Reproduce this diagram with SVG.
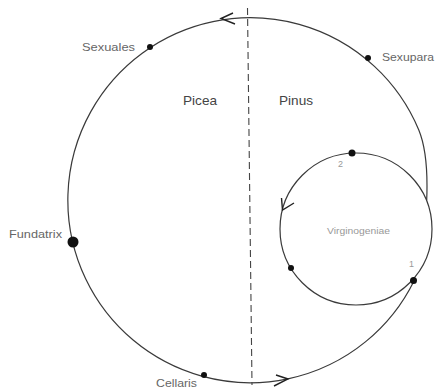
<svg xmlns="http://www.w3.org/2000/svg" width="436" height="388" viewBox="0 0 436 388">
<style>
  .ln{fill:none;stroke:#3a3a3a;stroke-width:1.2}
  .ah{fill:none;stroke:#222;stroke-width:1.4;stroke-linejoin:miter}
  .dash{fill:none;stroke:#444;stroke-width:1.1;stroke-dasharray:7 4}
  .dot{fill:#111}
  .lbl{font-family:"Liberation Sans","DejaVu Sans",sans-serif;font-size:10.5px;fill:#666}
  .big{font-family:"Liberation Sans","DejaVu Sans",sans-serif;font-size:13.5px;fill:#444}
  .faint{font-family:"Liberation Sans","DejaVu Sans",sans-serif;font-size:9px;fill:#999}
</style>
<rect width="436" height="388" fill="#fff"/>
<g id="connectors">
  <path class="ln" d="M414,281 A182.5,182.5 0 1 1 418.8,130 C426.4,148.5 427.6,178 426.7,200"/>
  <circle class="ln" cx="356" cy="229" r="76"/>
  <line class="dash" x1="247.5" y1="8" x2="252" y2="385"/>
  <polyline class="ah" points="233,13 221,18.5 235,24"/>
  <polyline class="ah" points="276,375 288,379 274,386"/>
  <polyline class="ah" points="281.5,198 282.5,210 294,203"/>
</g>
<g id="sexuales">
  <circle class="dot" cx="150" cy="47" r="3"/>
  <text class="lbl" x="82" y="51" textLength="53" lengthAdjust="spacingAndGlyphs">Sexuales</text>
</g>
<g id="sexupara">
  <circle class="dot" cx="368" cy="58" r="3"/>
  <text class="lbl" x="382" y="61" textLength="52" lengthAdjust="spacingAndGlyphs">Sexupara</text>
</g>
<g id="fundatrix">
  <circle class="dot" cx="73" cy="242" r="5.5"/>
  <text class="lbl" x="9" y="238" textLength="53" lengthAdjust="spacingAndGlyphs">Fundatrix</text>
</g>
<g id="cellaris">
  <circle class="dot" cx="204" cy="375" r="3"/>
  <text class="lbl" x="156" y="387" textLength="41" lengthAdjust="spacingAndGlyphs">Cellaris</text>
</g>
<g id="picea">
  <text class="big" x="183" y="105" textLength="34" lengthAdjust="spacingAndGlyphs">Picea</text>
</g>
<g id="pinus">
  <text class="big" x="279" y="105" textLength="34" lengthAdjust="spacingAndGlyphs">Pinus</text>
</g>
<g id="virginogeniae">
  <text class="faint" x="327" y="234" textLength="63" lengthAdjust="spacingAndGlyphs">Virginogeniae</text>
  <g id="v2">
    <circle class="dot" cx="352" cy="153" r="3.5"/>
    <text class="faint" x="338" y="167">2</text>
  </g>
  <g id="v3">
    <circle class="dot" cx="291" cy="268" r="3"/>
  </g>
  <g id="v1">
    <circle class="dot" cx="413.5" cy="280.5" r="3.5"/>
    <text class="faint" x="409" y="267">1</text>
  </g>
</g>
</svg>
